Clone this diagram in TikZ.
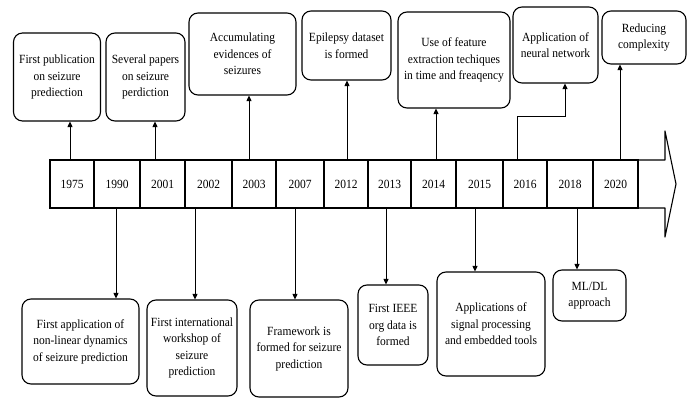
\documentclass[tikz,border=0pt]{standalone}
\usepackage{fontspec}
\setmainfont{Liberation Serif}[FakeStretch=0.92]
\usepackage{tikz}
\usetikzlibrary{arrows.meta, positioning, calc}

\tikzset{
  event/.style={draw, line width=1.1pt, rounded corners=9pt, align=center,
    inner sep=1pt, font=\fontsize{12.5}{16.5}\selectfont},
  yearcell/.style={draw, line width=1.1pt, minimum height=48pt, inner sep=0pt,
    outer sep=0pt, font=\fontsize{12.5}{15}\selectfont},
  conn/.style={line width=0.9pt, -{Triangle[length=5.5pt,width=5pt]}}
}

\begin{document}
\begin{tikzpicture}[x=1pt, y=-1pt]
\useasboundingbox (0,0) rectangle (690,398);

% Timeline band
\node[yearcell, minimum width=44pt] (y75) at (72,184) {1975};
\node[yearcell, minimum width=46pt] (y90) at (117,184) {1990};
\node[yearcell, minimum width=45pt] (y01) at (162.5,184) {2001};
\node[yearcell, minimum width=47pt] (y02) at (208.5,184) {2002};
\node[yearcell, minimum width=44pt] (y03) at (254,184) {2003};
\node[yearcell, minimum width=48pt] (y07) at (300,184) {2007};
\node[yearcell, minimum width=44pt] (y12) at (346,184) {2012};
\node[yearcell, minimum width=43pt] (y13) at (389.5,184) {2013};
\node[yearcell, minimum width=45pt] (y14) at (433.5,184) {2014};
\node[yearcell, minimum width=47pt] (y15) at (479.5,184) {2015};
\node[yearcell, minimum width=44pt] (y16) at (525,184) {2016};
\node[yearcell, minimum width=46pt] (y18) at (570,184) {2018};
\node[yearcell, minimum width=45pt] (y20) at (615.5,184) {2020};
\draw[line width=1.1pt, line join=round] (y20.north east) -- ++(27,0) -- ++(0,-29)
  -- ++(11,53) -- ++(-11,53) -- ++(0,-29) -- (y20.south east);

% Events above the line
\node[event, minimum width=87pt, minimum height=88pt] (b75) at (57,77)
  {First publication\\on seizure\\prediection};
\node[event, minimum width=79pt, minimum height=88pt] (b01) at (145.5,77)
  {Several papers\\on seizure\\perdiction};
\node[event, minimum width=107pt, minimum height=82pt] (b03) at (242.5,54)
  {Accumulating\\evidences of\\seizures};
\node[event, minimum width=89pt, minimum height=69pt] (b12) at (346.5,45.5)
  {Epilepsy dataset\\is formed};
\node[event, minimum width=112pt, minimum height=96pt] (b14) at (454,60)
  {Use of feature\\extraction techiques\\in time and freaqency};
\node[event, minimum width=85pt, minimum height=76pt] (b16) at (555.5,45)
  {Application of\\neural network};
\node[event, minimum width=84pt, minimum height=53pt] (b20) at (644,37.5)
  {Reducing\\complexity};

% Events below the line
\node[event, minimum width=117pt, minimum height=85pt] (b90) at (80.5,341.5)
  {First application of\\non-linear dynamics\\of seizure prediction};
\node[event, minimum width=90pt, minimum height=96pt] (b02) at (192,348)
  {First international\\workshop of\\seizure\\prediction};
\node[event, minimum width=98pt, minimum height=97pt] (b07) at (299,348.5)
  {Framework is\\formed for seizure\\prediction};
\node[event, minimum width=70pt, minimum height=80pt] (b13) at (393,325)
  {First IEEE\\org data is\\formed};
\node[event, minimum width=108pt, minimum height=104pt] (b15) at (491,324)
  {Applications of\\signal processing\\and embedded tools};
\node[event, minimum width=73pt, minimum height=51pt] (b18) at (589.5,295.5)
  {ML/DL\\approach};

% Upward connectors
\draw[conn] ([xshift=-2pt]y75.north) -- ([xshift=-2pt]y75.north |- b75.south);
\draw[conn] ([xshift=-7.5pt]y01.north) -- ([xshift=-7.5pt]y01.north |- b01.south);
\draw[conn] ([xshift=-5pt]y03.north) -- ([xshift=-5pt]y03.north |- b03.south);
\draw[conn] ([xshift=1pt]y12.north) -- ([xshift=1pt]y12.north |- b12.south);
\draw[conn] ([xshift=2.5pt]y14.north) -- ([xshift=2.5pt]y14.north |- b14.south);
\coordinate (k16) at (565,116);
\draw[conn] ([xshift=-8pt]y16.north) |- (k16) -- (k16 |- b16.south);
\draw[conn] ([xshift=4.5pt]y20.north) -- ([xshift=4.5pt]y20.north |- b20.south);

% Downward connectors
\draw[conn] ([xshift=-1pt]y90.south) -- ([xshift=-1pt]y90.south |- b90.north);
\draw[conn] ([xshift=-13.5pt]y02.south) -- ([xshift=-13.5pt]y02.south |- b02.north);
\draw[conn] ([xshift=-5pt]y07.south) -- ([xshift=-5pt]y07.south |- b07.north);
\draw[conn] ([xshift=-3.5pt]y13.south) -- ([xshift=-3.5pt]y13.south |- b13.north);
\draw[conn] ([xshift=-4.5pt]y15.south) -- ([xshift=-4.5pt]y15.south |- b15.north);
\draw[conn] ([xshift=7pt]y18.south) -- ([xshift=7pt]y18.south |- b18.north);
\end{tikzpicture}
\end{document}
